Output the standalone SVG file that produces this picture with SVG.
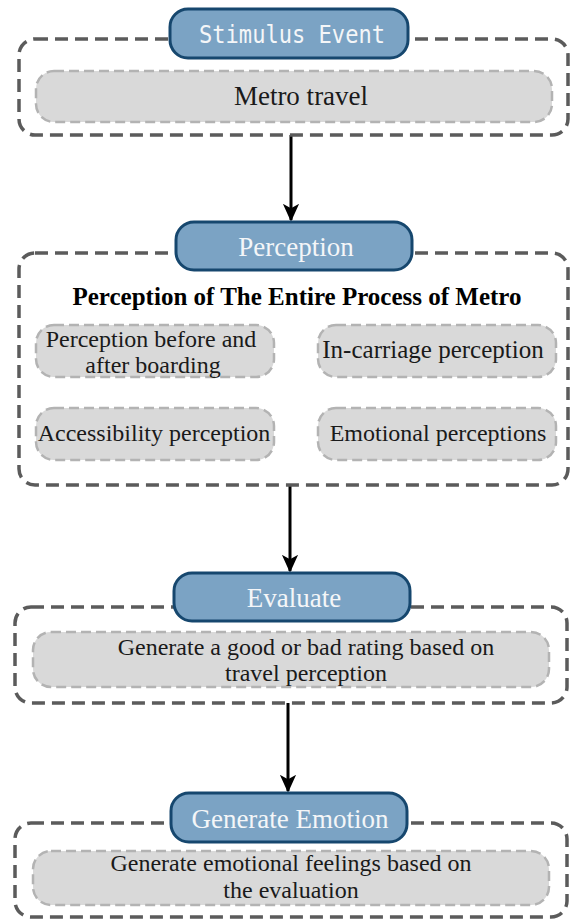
<svg xmlns="http://www.w3.org/2000/svg" width="577" height="921" viewBox="0 0 577 921">
<style>
.outer{fill:none;stroke:#5b5b5b;stroke-width:3.5;stroke-dasharray:13 7}
.inner{fill:#d9d9d9;stroke:#b3b3b3;stroke-width:2.5;stroke-dasharray:10 5}
.pill{fill:#7ba3c4;stroke:#16476e;stroke-width:3}
.pt{font-family:"Liberation Serif","Times New Roman",serif;font-size:27px;fill:#f4f6f8;text-anchor:middle}
.mono{font-family:"DejaVu Sans Mono","Liberation Mono",monospace;font-size:25px;fill:#f4f6f8;text-anchor:middle}
.t{font-family:"Liberation Serif","Times New Roman",serif;font-size:24px;fill:#1a1a1a;text-anchor:middle}
.title{font-family:"Liberation Serif","Times New Roman",serif;font-size:25px;font-weight:bold;fill:#000;text-anchor:middle}
.conn{stroke:#000;stroke-width:3;fill:none}
</style>
<defs>
<marker id="ah" viewBox="0 0 20 20" refX="18" refY="10" markerWidth="6" markerHeight="6" markerUnits="strokeWidth" orient="auto">
<path d="M0,1 L20,10 L0,19 L5,10 z" fill="#000"/>
</marker>
</defs>
<g id="connectors">
<line class="conn" x1="291" y1="135" x2="291" y2="220" marker-end="url(#ah)"/>
<line class="conn" x1="290" y1="485" x2="290" y2="571" marker-end="url(#ah)"/>
<line class="conn" x1="288" y1="703" x2="288" y2="791" marker-end="url(#ah)"/>
</g>
<g id="stimulus">
<rect class="outer" x="19" y="39" width="549" height="96" rx="16"/>
<rect class="inner" x="36" y="71" width="516" height="51" rx="18"/>
<text class="t" x="301" y="105" style="font-size:27px">Metro travel</text>
<rect class="pill" x="170" y="9" width="238" height="49" rx="18"/>
<text class="mono" x="292" y="43" textLength="186" lengthAdjust="spacingAndGlyphs">Stimulus Event</text>
</g>
<g id="perception">
<rect class="outer" x="19" y="253" width="549" height="232" rx="16"/>
<rect class="pill" x="176" y="222" width="236" height="48" rx="18"/>
<text class="pt" x="296" y="256">Perception</text>
<text class="title" x="297" y="305">Perception of The Entire Process of Metro</text>
</g>
<g id="p1">
<rect class="inner" x="36" y="325" width="238" height="52" rx="18"/>
<text class="t" x="151" y="347">Perception before and</text>
<text class="t" x="153" y="373">after boarding</text>
</g>
<g id="p2">
<rect class="inner" x="318" y="325" width="238" height="52" rx="18"/>
<text class="t" x="433" y="358" style="font-size:25px">In-carriage perception</text>
</g>
<g id="p3">
<rect class="inner" x="36" y="408" width="238" height="52" rx="18"/>
<text class="t" x="154" y="441">Accessibility perception</text>
</g>
<g id="p4">
<rect class="inner" x="318" y="408" width="238" height="52" rx="18"/>
<text class="t" x="438" y="441">Emotional perceptions</text>
</g>
<g id="evaluate">
<rect class="outer" x="15" y="607" width="552" height="96" rx="16"/>
<rect class="inner" x="33" y="632" width="516" height="55" rx="18"/>
<text class="t" x="306" y="655">Generate a good or bad rating based on</text>
<text class="t" x="306" y="681">travel perception</text>
<rect class="pill" x="174" y="573" width="236" height="48" rx="18"/>
<text class="pt" x="294" y="607">Evaluate</text>
</g>
<g id="emotion">
<rect class="outer" x="15" y="823" width="552" height="94" rx="16"/>
<rect class="inner" x="33" y="851" width="516" height="54" rx="18"/>
<text class="t" x="291" y="871">Generate emotional feelings based on</text>
<text class="t" x="291" y="898">the evaluation</text>
<rect class="pill" x="171" y="793" width="236" height="49" rx="18"/>
<text class="pt" x="290" y="828">Generate Emotion</text>
</g>
</svg>
